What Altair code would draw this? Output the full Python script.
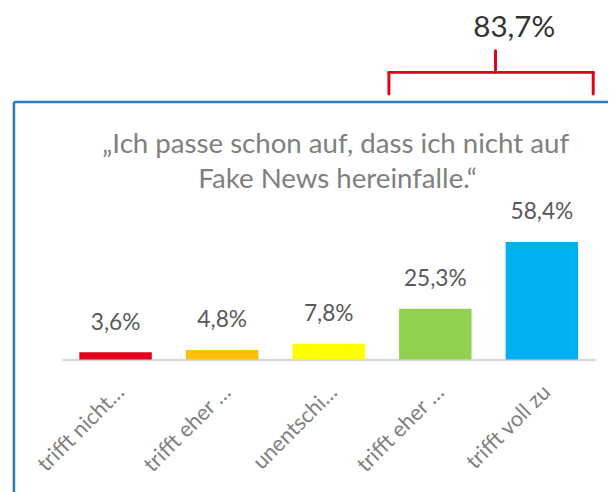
import altair as alt
import pandas as pd

categories = ["trifft nicht zu", "trifft eher nicht zu", "unentschieden", "trifft eher zu", "trifft voll zu"]
short_labels = ["trifft nicht…", "trifft eher …", "unentschi…", "trifft eher …", "trifft voll zu"]
values = [3.6, 4.8, 7.8, 25.3, 58.4]
colors = ["#E2001A", "#FFC000", "#FFFF00", "#92D050", "#00B0F0"]
title_lines = ["„Ich passe schon auf, dass ich nicht auf", "Fake News hereinfalle.“"]

df = pd.DataFrame({
    "cat": categories,
    "val": values,
    "label": [f"{v:.1f}".replace(".", ",") + "%" for v in values],
})
top2 = values[3] + values[4]
top2_label = f"{top2:.1f}".replace(".", ",") + "%"

FONT = "Lato"
W, H = 540, 156

x_enc = alt.X(
    "cat:N", sort=categories,
    scale=alt.Scale(paddingInner=0.32, paddingOuter=0.16),
    axis=alt.Axis(
        title=None, labelAngle=-45, labelFont=FONT, labelFontSize=22,
        labelColor="#7F7F7F", ticks=False, domainColor="#D9D9D9", domainWidth=2.5,
        labelPadding=22, labelOffset=-2, labelLimit=220,
        labelExpr="[" + ",".join(f"'{s}'" for s in short_labels) + "][indexof([" +
                  ",".join(f"'{c}'" for c in categories) + "], datum.value)]",
    ),
)
y_enc = alt.Y("val:Q", scale=alt.Scale(domain=[0, 76.5]), axis=None)

bars = alt.Chart(df).mark_bar().encode(
    x=x_enc, y=y_enc,
    color=alt.Color("cat:N", scale=alt.Scale(domain=categories, range=colors), legend=None),
)
labels = alt.Chart(df).mark_text(
    font=FONT, fontSize=23, color="#595959", baseline="alphabetic", dy=-23
).encode(x=alt.X("cat:N", sort=categories), y=y_enc, text="label:N")

one = alt.Data(values=[{}])
FRAME = "#2B7BC4"
frame_top = alt.Chart(one).mark_rule(color=FRAME, strokeWidth=2.5).encode(
    x=alt.value(-49), x2=alt.value(560), y=alt.value(-105))
frame_left = alt.Chart(one).mark_rule(color=FRAME, strokeWidth=2.5).encode(
    x=alt.value(-49), y=alt.value(-105), y2=alt.value(300))

title1 = alt.Chart(alt.Data(values=[{"t": title_lines[0]}])).mark_text(
    font=FONT, fontSize=28, color="#7F7F7F", baseline="alphabetic", align="center"
).encode(x=alt.value(277), y=alt.value(-53), text="t:N")
title2 = alt.Chart(alt.Data(values=[{"t": title_lines[1]}])).mark_text(
    font=FONT, fontSize=28, color="#7F7F7F", baseline="alphabetic", align="center"
).encode(x=alt.value(279), y=alt.value(-18), text="t:N")

RED = "#E2001A"
brace_l = alt.Chart(one).mark_rule(color=RED, strokeWidth=3, strokeCap="round").encode(
    x=alt.value(331), y=alt.value(-135), y2=alt.value(-113))
brace_r = alt.Chart(one).mark_rule(color=RED, strokeWidth=3, strokeCap="round").encode(
    x=alt.value(538), y=alt.value(-135), y2=alt.value(-113))
brace_h = alt.Chart(one).mark_rule(color=RED, strokeWidth=3, strokeCap="round").encode(
    x=alt.value(331), x2=alt.value(538), y=alt.value(-135))
brace_tip = alt.Chart(one).mark_rule(color=RED, strokeWidth=3, strokeCap="round").encode(
    x=alt.value(439), y=alt.value(-157), y2=alt.value(-135))
brace_text = alt.Chart(alt.Data(values=[{"t": top2_label}])).mark_text(
    font=FONT, fontSize=30, color="#333333", baseline="alphabetic", align="center"
).encode(x=alt.value(458), y=alt.value(-171), text="t:N")

chart = alt.layer(
    bars, labels, frame_top, frame_left, title1, title2,
    brace_l, brace_r, brace_h, brace_tip, brace_text
).properties(
    width=W, height=H,
    background="white",
    autosize=alt.AutoSizeParams(type="none"),
    padding={"left": 55, "top": 197, "right": 13, "bottom": 131},
).configure_view(stroke=None, strokeWidth=0)

chart.save("out.html", embed_options={"renderer": "svg", "actions": False})
